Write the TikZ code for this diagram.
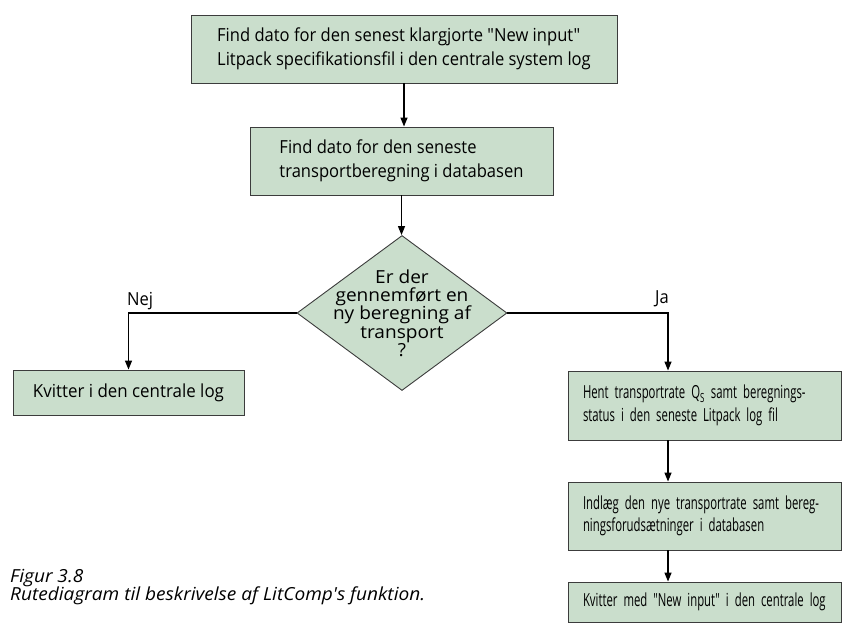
\documentclass[tikz,border=0pt]{standalone}
\usepackage{fontspec}
\setmainfont{Open Sans}
\newfontfamily\mainfnt[FakeStretch=0.92]{Open Sans}
\newfontfamily\kvfnt[FakeStretch=0.94]{Open Sans}
\newfontfamily\diafnt[FakeStretch=1.06]{Open Sans}
\newfontfamily\capfnt[FakeStretch=1.06]{Open Sans}
\newfontfamily\narrowfnt[FakeStretch=0.63]{Open Sans}
\usetikzlibrary{shapes.geometric,arrows.meta}
\definecolor{boxfill}{RGB}{202,222,204}
\definecolor{boxline}{RGB}{60,60,60}
\begin{document}
\begin{tikzpicture}[x=1pt,y=-1pt,
  stepbox/.style={draw=boxline,line width=0.9pt,fill=boxfill,align=left,inner sep=0pt,
    font=\mainfnt\fontsize{18}{24}\selectfont},
  rightbox/.style={draw=boxline,line width=0.9pt,fill=boxfill,align=left,inner xsep=15pt,inner ysep=0pt,
    text width=243pt,minimum width=273pt,font=\narrowfnt\fontsize{18}{22.5}\selectfont},
  decision/.style={draw=boxline,line width=0.9pt,fill=boxfill,diamond,inner sep=0pt,
    minimum width=210pt,minimum height=155pt},
  dtext/.style={align=center,inner sep=0pt,font=\diafnt\fontsize{18}{18.3}\selectfont},
  flow/.style={draw=black,line width=1.3pt,-{Triangle[length=9pt,width=7pt]}},
  lbl/.style={inner sep=0pt,font=\mainfnt\fontsize{18}{20}\selectfont},
  figcap/.style={inner sep=0pt,anchor=base west,font=\capfnt\itshape\fontsize{18}{20}\selectfont}
]
\useasboundingbox (0,0) rectangle (842,626);
\node[stepbox,minimum width=426pt,minimum height=68pt] (b1) at (404,49)
  {Find dato for den senest klargjorte "New input"\\Litpack specifikationsfil i den centrale system log};
\node[stepbox,minimum width=303pt,minimum height=68pt] (b2) at (401.5,161)
  {Find dato for den seneste\\transportberegning i databasen};
\node[decision] (d) at (402,313) {};
\node[dtext] (dt) at (d.center) {Er der\\gennemført en\\ny beregning af\\transport\\?};
\node[stepbox,minimum width=231pt,minimum height=45pt,font=\kvfnt\fontsize{18}{24}\selectfont] (kl) at (128.5,392.5)
  {Kvitter i den centrale log};
\node[rightbox,minimum height=69pt] (hent) at (704.5,405.5)
  {Hent transportrate Q\textsubscript{S} samt beregnings-\\status i den seneste Litpack log fil};
\node[rightbox,minimum height=68pt] (ind) at (704.5,516)
  {Indlæg den nye transportrate samt bereg-\\ningsforudsætninger i databasen};
\node[rightbox,minimum height=40pt] (km) at (704.5,602)
  {Kvitter med "New input" i den centrale log};
\coordinate (jx) at (668,0);
\draw[flow] (b1.south) -- (b1.south |- b2.north);
\draw[flow] (b2.south) -- (b2.south |- d.north);
\draw[flow] (d.west) -| (kl.north);
\draw[flow] (d.east) -| (jx |- hent.north);
\draw[flow] (jx |- hent.south) -- (jx |- ind.north);
\draw[flow] (jx |- ind.south) -- (jx |- km.north);
\node[lbl] (nej) at (140,301) {Nej};
\node[lbl] (ja) at (662,299) {Ja};
\node[figcap] (c1) at (10,582) {Figur 3.8};
\node[figcap] (c2) at (10,600) {Rutediagram til beskrivelse af LitComp's funktion.};
\end{tikzpicture}
\end{document}
